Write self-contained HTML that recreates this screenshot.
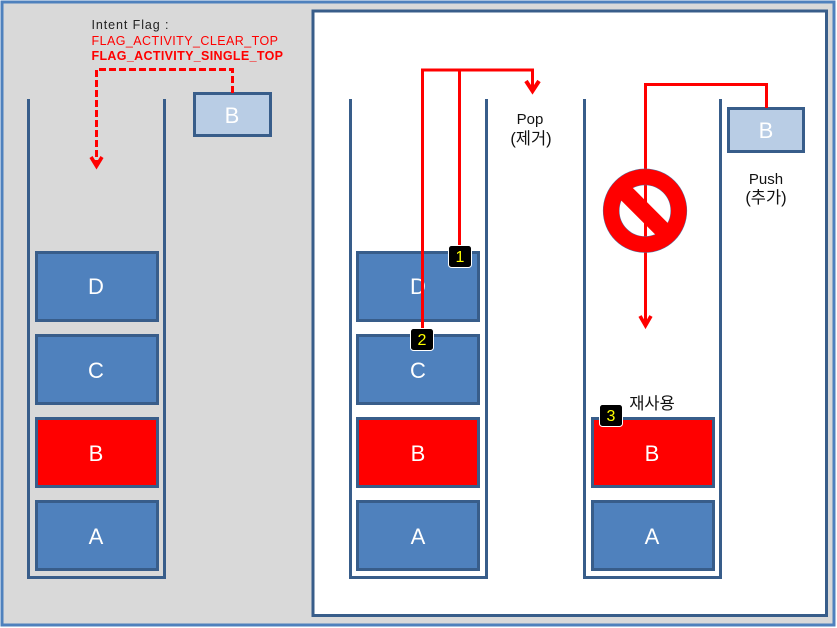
<!DOCTYPE html>
<html><head><meta charset="utf-8">
<style>
html,body{margin:0;padding:0;background:#fff;width:837px;height:628px;overflow:hidden}
svg{display:block}
.b{font-family:"Liberation Sans","Noto Sans CJK KR",sans-serif;font-size:22px;fill:#fff;text-anchor:middle}
.l{font-family:"Liberation Sans","Noto Sans CJK KR",sans-serif;font-size:15px;fill:#111;text-anchor:middle}
.k{font-size:16.5px}
.f{font-family:"Liberation Sans","Noto Sans CJK KR",sans-serif;font-size:12.5px}
.n{font-family:"Liberation Sans",sans-serif;font-size:16px;fill:#ff0;text-anchor:middle}
.box{stroke:#385d8a;stroke-width:3;fill:#4f81bd}
.red{stroke:#385d8a;stroke-width:3;fill:#f00}
.lt{stroke:#385d8a;stroke-width:3;fill:#b9cde5}
.st{stroke:#385d8a;stroke-width:3;fill:none}
.ln{stroke:#f00;stroke-width:3;fill:none}
.hd{stroke:#f00;stroke-width:3.6;fill:none}
.bd{fill:#000;stroke:#fff;stroke-width:1}
</style></head>
<body>
<svg width="837" height="628" viewBox="0 0 837 628" xmlns="http://www.w3.org/2000/svg">
<rect x="2" y="2" width="832" height="623" fill="#d9d9d9" stroke="#4f81bd" stroke-width="3"/>
<rect x="313" y="11" width="513.5" height="604.5" fill="#fff" stroke="#385d8a" stroke-width="3"/>

<path class="st" d="M28.5 99V577.5H164.5V99"/>
<rect class="box" x="36.5" y="252.5" width="121" height="68"/>
<rect class="box" x="36.5" y="335.5" width="121" height="68"/>
<rect class="red" x="36.5" y="418.5" width="121" height="68"/>
<rect class="box" x="36.5" y="501.5" width="121" height="68"/>
<text class="b" x="96" y="294">D</text>
<text class="b" x="96" y="378">C</text>
<text class="b" x="96" y="461">B</text>
<text class="b" x="96" y="544">A</text>

<rect class="lt" x="194.5" y="93.5" width="76" height="42"/>
<text class="b" x="232" y="123">B</text>

<text class="f" x="91.500" y="29" fill="#222" textLength="77" lengthAdjust="spacing">Intent Flag :</text>
<text class="f" x="91.500" y="45" fill="#f00" textLength="186.500" lengthAdjust="spacing">FLAG_ACTIVITY_CLEAR_TOP</text>
<text class="f" x="91.500" y="60" fill="#f00" font-weight="bold" textLength="191.500" lengthAdjust="spacing">FLAG_ACTIVITY_SINGLE_TOP</text>
<path class="ln" d="M232.5 93V69.5H96.5V164" stroke-dasharray="7 3"/>
<path class="hd" d="M91 157L96.5 166L102 157"/>

<path class="st" d="M350.5 99V577.5H486.5V99"/>
<rect class="box" x="357.5" y="252.5" width="121" height="68"/>
<rect class="box" x="357.5" y="335.5" width="121" height="68"/>
<rect class="red" x="357.5" y="418.5" width="121" height="68"/>
<rect class="box" x="357.5" y="501.5" width="121" height="68"/>
<text class="b" x="418" y="294">D</text>
<text class="b" x="418" y="378">C</text>
<text class="b" x="418" y="461">B</text>
<text class="b" x="418" y="544">A</text>
<path class="ln" d="M459.5 250V70M422.5 340V70H532.5V90"/>
<path class="hd" d="M526 81L532.5 91L539 81" style="stroke-width:4"/>
<text class="l" x="530" y="124">Pop</text>
<text class="l k" x="531" y="144">(제거)</text>
<rect class="bd" x="448.5" y="245.5" width="23" height="22" rx="3"/>
<text class="n" x="460" y="262">1</text>
<rect class="bd" x="410.5" y="328.5" width="23" height="22" rx="3"/>
<text class="n" x="422" y="345">2</text>

<path class="st" d="M584.5 99V577.5H720.5V99"/>
<rect class="red" x="592.5" y="418.5" width="121" height="68"/>
<rect class="box" x="592.5" y="501.5" width="121" height="68"/>
<text class="b" x="652" y="461">B</text>
<text class="b" x="652" y="544">A</text>
<rect class="lt" x="728.5" y="108.5" width="75" height="43"/>
<text class="b" x="766" y="138">B</text>
<path class="ln" d="M766.5 108V84.5H645.5V325"/>
<path class="hd" d="M640 316L645.5 325.500L651 316"/>
<circle cx="645" cy="210.700" r="33.800" fill="none" stroke="#4f6f9f" stroke-width="16.600"/>
<circle cx="645" cy="210.700" r="33.800" fill="none" stroke="#f00" stroke-width="15.600"/>
<line x1="620" y1="187.200" x2="668" y2="235.200" stroke="#f00" stroke-width="17"/>
<text class="l" x="766" y="184">Push</text>
<text class="l k" x="766" y="203">(추가)</text>
<text class="l k" x="652" y="409">재사용</text>
<rect class="bd" x="599.5" y="404.500" width="23" height="22" rx="3"/>
<text class="n" x="611" y="421">3</text>
</svg>
</body></html>
